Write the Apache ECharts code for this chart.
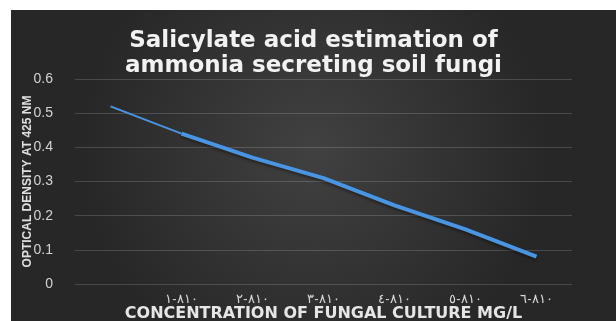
<!DOCTYPE html>
<html>
<head>
<meta charset="utf-8">
<script src="https://cdn.jsdelivr.net/npm/echarts@6/dist/echarts.min.js"></script>
<style>
html,body{margin:0;padding:0;background:#ffffff;overflow:hidden;}
#chart{position:absolute;left:11px;top:10px;width:605px;height:311px;}
</style>
</head>
<body>
<div id="chart"></div>
<script>
var titleLines = ["Salicylate acid estimation of", "ammonia secreting soil fungi"];
var yAxisName = "OPTICAL DENSITY AT 425 NM";
var xAxisName = "CONCENTRATION OF FUNGAL CULTURE MG/L";
var categories = ["", "١\u200E-\u200E٨١٠", "٢\u200E-\u200E٨١٠", "٣\u200E-\u200E٨١٠", "٤\u200E-\u200E٨١٠", "٥\u200E-\u200E٨١٠", "٦\u200E-\u200E٨١٠"];
var opticalDensity = [0.52, 0.44, 0.37, 0.31, 0.23, 0.16, 0.08];
var yTicks = [0, 0.1, 0.2, 0.3, 0.4, 0.5, 0.6];

var firstSegment = opticalDensity.map(function (v, i) { return i <= 1 ? v : null; });
var restSegment = opticalDensity.map(function (v, i) { return i >= 1 ? v : null; });

var chart = echarts.init(document.getElementById('chart'), null, {renderer: 'canvas'});
chart.setOption({
  animation: false,
  backgroundColor: {
    type: 'radial', x: 0.5, y: 0.45, r: 0.75,
    colorStops: [{offset: 0, color: '#414141'}, {offset: 1, color: '#272727'}]
  },
  title: {
    text: titleLines.join('\n'),
    left: 'center',
    top: 14,
    textStyle: {
      color: '#f2f2f2', fontFamily: 'DejaVu Sans', fontWeight: 'bold',
      fontSize: 23, lineHeight: 25
    }
  },
  grid: {left: 64, right: 44, top: 69, bottom: 37, containLabel: false, outerBoundsMode: 'none'},
  xAxis: {
    type: 'category',
    data: categories,
    boundaryGap: true,
    name: xAxisName,
    nameLocation: 'middle',
    nameGap: 22,
    nameMoveOverlap: false,
    nameTextStyle: {color: '#e6e6e6', fontFamily: 'DejaVu Sans', fontWeight: 'bold', fontSize: 16},
    axisLine: {show: false},
    axisTick: {show: false},
    axisLabel: {color: '#d9d9d9', fontSize: 13, margin: 9, interval: 0}
  },
  yAxis: {
    type: 'value',
    min: yTicks[0],
    max: yTicks[yTicks.length - 1],
    interval: 0.1,
    name: yAxisName,
    nameLocation: 'middle',
    nameGap: 41,
    nameMoveOverlap: false,
    nameTextStyle: {color: '#e0e0e0', fontFamily: 'Liberation Sans', fontWeight: 'bold', fontSize: 12},
    axisLine: {show: false},
    axisTick: {show: false},
    axisLabel: {
      color: '#d4d4d4', fontSize: 14, margin: 22,
      formatter: function (v) { return v === 0 ? '0' : v.toFixed(1); }
    },
    splitLine: {lineStyle: {color: 'rgba(255,255,255,0.16)', width: 1}}
  },
  series: [
    {
      type: 'line', data: firstSegment, symbol: 'none', connectNulls: false,
      lineStyle: {color: '#4a95e2', width: 2}
    },
    {
      type: 'line', data: restSegment, symbol: 'none', connectNulls: false,
      lineStyle: {color: '#4a95e2', width: 4, shadowColor: 'rgba(0,0,0,0.4)', shadowBlur: 3, shadowOffsetY: 2}
    }
  ]
});
</script>
</body>
</html>
